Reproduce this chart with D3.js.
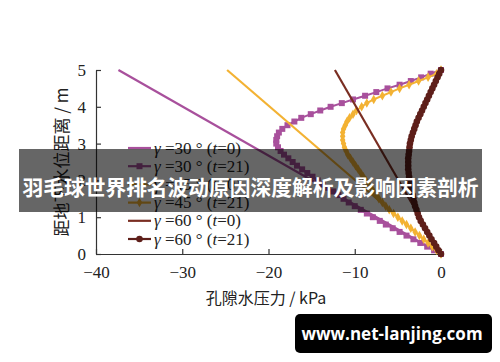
<!DOCTYPE html>
<html>
<head>
<meta charset="utf-8">
<script src="https://cdn.jsdelivr.net/npm/d3@7"></script>
<style>
  body { margin: 0; background: #fff; }
  svg { display: block; }
</style>
</head>
<body>
<svg id="canvas"></svg>
<script>
var w = 500
var h = 362

// ########## Data ##########
var depth = [5.0, 4.9, 4.8, 4.7, 4.6, 4.5, 4.4, 4.3, 4.2, 4.1, 4.0, 3.9, 3.8, 3.7, 3.6, 3.5, 3.4, 3.3, 3.2, 3.1,
    3.0, 2.9, 2.8, 2.7, 2.6, 2.5, 2.4, 2.3, 2.2, 2.1, 2.0, 1.9, 1.8, 1.7, 1.6, 1.5, 1.4, 1.3, 1.2, 1.1,
    1.0, 0.9, 0.8, 0.7, 0.6, 0.5, 0.4, 0.3, 0.2, 0.1, 0.0];

var p30_t21 = [0, -1.2, -2.3, -3.5, -4.8, -6.2, -7.5, -8.8, -10.2, -11.5, -12.8, -14.0, -15.1, -16.2, -17.0, -17.8, -18.4, -18.8, -19.0, -19.1,
    -19.1, -18.9, -18.6, -18.2, -17.7, -17.2, -16.7, -16.1, -15.5, -14.9, -14.3, -13.7, -13.1, -12.5, -11.9, -11.3, -10.7, -10.0, -9.3, -8.6,
    -7.9, -7.1, -6.4, -5.6, -4.8, -4.0, -3.2, -2.4, -1.6, -0.8, 0];
var p45_t21 = [0, -0.5, -1.5, -2.6, -3.7, -4.8, -5.8, -6.8, -7.8, -8.6, -9.2, -9.8, -10.2, -10.6, -10.9, -11.1, -11.3, -11.4, -11.4, -11.4,
    -11.3, -11.2, -11.0, -10.8, -10.5, -10.2, -9.9, -9.6, -9.3, -9.0, -8.7, -8.4, -8.1, -7.8, -7.5, -7.2, -6.8, -6.4, -6.0, -5.5,
    -5.0, -4.5, -4.0, -3.5, -3.0, -2.5, -2.0, -1.5, -1.0, -0.5, 0];
var p60_t21 = [0, -0.2, -0.4, -0.6, -0.8, -1.0, -1.2, -1.4, -1.6, -1.8, -2.0, -2.2, -2.4, -2.6, -2.8, -2.95, -3.1, -3.25, -3.4, -3.5,
    -3.6, -3.65, -3.7, -3.75, -3.8, -3.8, -3.8, -3.8, -3.75, -3.7, -3.65, -3.6, -3.5, -3.4, -3.3, -3.2, -3.1, -3.0, -2.85, -2.7,
    -2.55, -2.35, -2.1, -1.85, -1.6, -1.35, -1.1, -0.8, -0.55, -0.3, 0];

// t=0: straight lines, [top, bottom]
var depth_t0 = [5, 0];
var p30_t0 = [-37.4, 0];
var p45_t0 = [-24.8, 0];
var p60_t0 = [-12.3, 0];

var xTicks = [-40, -30, -20, -10, 0];
var yTicks = [0, 1, 2, 3, 4, 5];

var angles = ["30", "30", "45", "45", "60", "60"];
var times = ["0", "21", "0", "21", "0", "21"];

var purple = "#a8509c", orange = "#f3b233", brown0 = "#7a2e22", brown = "#5e1f1a";

var series = [
    { angle: angles[0], t: times[0], p: p30_t0, d: depth_t0, color: purple, width: 2.2, marker: null },
    { angle: angles[1], t: times[1], p: p30_t21, d: depth, color: purple, width: 2, marker: "square" },
    { angle: angles[2], t: times[2], p: p45_t0, d: depth_t0, color: orange, width: 2.2, marker: null },
    { angle: angles[3], t: times[3], p: p45_t21, d: depth, color: orange, width: 2, marker: "diamond" },
    { angle: angles[4], t: times[4], p: p60_t0, d: depth_t0, color: brown0, width: 2.2, marker: null },
    { angle: angles[5], t: times[5], p: p60_t21, d: depth, color: brown, width: 2.4, marker: "circle" }
];

// ########## SVG ##########
var svg = d3.select("#canvas")
    .attr("width", w)
    .attr("height", h);

var x = d3.scaleLinear().domain([-40, 0]).range([96, 441]);
var y = d3.scaleLinear().domain([0, 5]).range([254, 70]);

var serif = "'Liberation Serif', 'DejaVu Serif', serif";
var cjk = "'Noto Sans CJK SC', sans-serif";

// ########## Axes ##########
var xAxis = svg.append("g")
    .attr("transform", "translate(0," + y(0) + ")")
    .call(d3.axisBottom(x).tickValues(xTicks).tickSizeInner(-5).tickSizeOuter(0).tickPadding(12));
var yAxis = svg.append("g")
    .attr("transform", "translate(" + x(-40) + ",0)")
    .call(d3.axisLeft(y).tickValues(yTicks).tickFormat(d3.format("d")).tickSizeInner(-5).tickSizeOuter(0).tickPadding(10));

[xAxis, yAxis].forEach(function (a) {
    a.select(".domain").attr("stroke", "#333").attr("stroke-width", 1.2);
    a.selectAll(".tick line").attr("stroke", "#333").attr("stroke-width", 1.2);
    a.selectAll(".tick text").attr("font-family", serif).attr("font-size", 17).attr("fill", "#222");
});

svg.append("text")
    .attr("x", 266)
    .attr("y", 304)
    .attr("text-anchor", "middle")
    .attr("font-family", cjk)
    .attr("font-size", 16)
    .attr("fill", "#222")
    .text("孔隙水压力 / kPa");

svg.append("text")
    .attr("transform", "translate(68,162) rotate(-90)")
    .attr("text-anchor", "middle")
    .attr("font-family", cjk)
    .attr("font-size", 17)
    .attr("fill", "#222")
    .text("距地下水位距离 / m");

// ########## Lines and markers ##########
var line = d3.line()
    .x(function (d) { return x(d[0]); })
    .y(function (d) { return y(d[1]); });

var symbols = { square: d3.symbolSquare, diamond: d3.symbolDiamond, circle: d3.symbolCircle };
var symSize = { square: 36, diamond: 26, circle: 34 };

series.forEach(function (s) {
    var pts = s.p.map(function (v, i) { return [v, s.d[i]]; });
    svg.append("path")
        .attr("d", line(pts))
        .attr("fill", "none")
        .attr("stroke", s.color)
        .attr("stroke-width", s.width);
    if (s.marker) {
        svg.selectAll(null)
            .data(pts).enter()
            .append("path")
            .attr("transform", function (d) { return "translate(" + x(d[0]) + "," + y(d[1]) + ")"; })
            .attr("d", d3.symbol().type(symbols[s.marker]).size(symSize[s.marker]))
            .attr("fill", s.color);
    }
});

// ########## Legend ##########
var legend = svg.append("g");
series.forEach(function (s, i) {
    var ly = 148 + i * 18.2;
    legend.append("line")
        .attr("x1", 128).attr("x2", 151)
        .attr("y1", ly).attr("y2", ly)
        .attr("stroke", s.color)
        .attr("stroke-width", 2.2);
    if (s.marker) {
        legend.append("path")
            .attr("transform", "translate(139.5," + ly + ")")
            .attr("d", d3.symbol().type(symbols[s.marker]).size(symSize[s.marker]))
            .attr("fill", s.color);
    }
    var t = legend.append("text")
        .attr("x", 154)
        .attr("y", ly + 5.5)
        .attr("font-family", serif)
        .attr("font-size", 17)
        .attr("fill", "#222");
    t.append("tspan").attr("font-style", "italic").text("γ");
    t.append("tspan").text(" =" + s.angle + " ° (");
    t.append("tspan").attr("font-style", "italic").text("t");
    t.append("tspan").text("=" + s.t + ")");
});

// ########## Banner ##########
svg.append("rect")
    .attr("x", 19).attr("y", 149)
    .attr("width", 463).attr("height", 63)
    .attr("fill", "#000")
    .attr("fill-opacity", 0.6);

svg.append("text")
    .attr("x", 250.5)
    .attr("y", 195)
    .attr("text-anchor", "middle")
    .attr("font-family", cjk)
    .attr("font-weight", "bold")
    .attr("font-size", 21)
    .attr("textLength", 456)
    .attr("lengthAdjust", "spacingAndGlyphs")
    .attr("fill", "#fff")
    .text("羽毛球世界排名波动原因深度解析及影响因素剖析");

// ########## Watermark ##########
svg.append("rect")
    .attr("x", 295).attr("y", 314)
    .attr("width", 197).attr("height", 39)
    .attr("rx", 5)
    .attr("fill", "#000");

svg.append("text")
    .attr("x", 392)
    .attr("y", 340)
    .attr("text-anchor", "middle")
    .attr("font-family", "'Open Sans', 'Noto Sans', sans-serif")
    .attr("font-weight", "bold")
    .attr("font-size", 17)
    .attr("fill", "#fff")
    .text("www.net-lanjing.com");
</script>
</body>
</html>
